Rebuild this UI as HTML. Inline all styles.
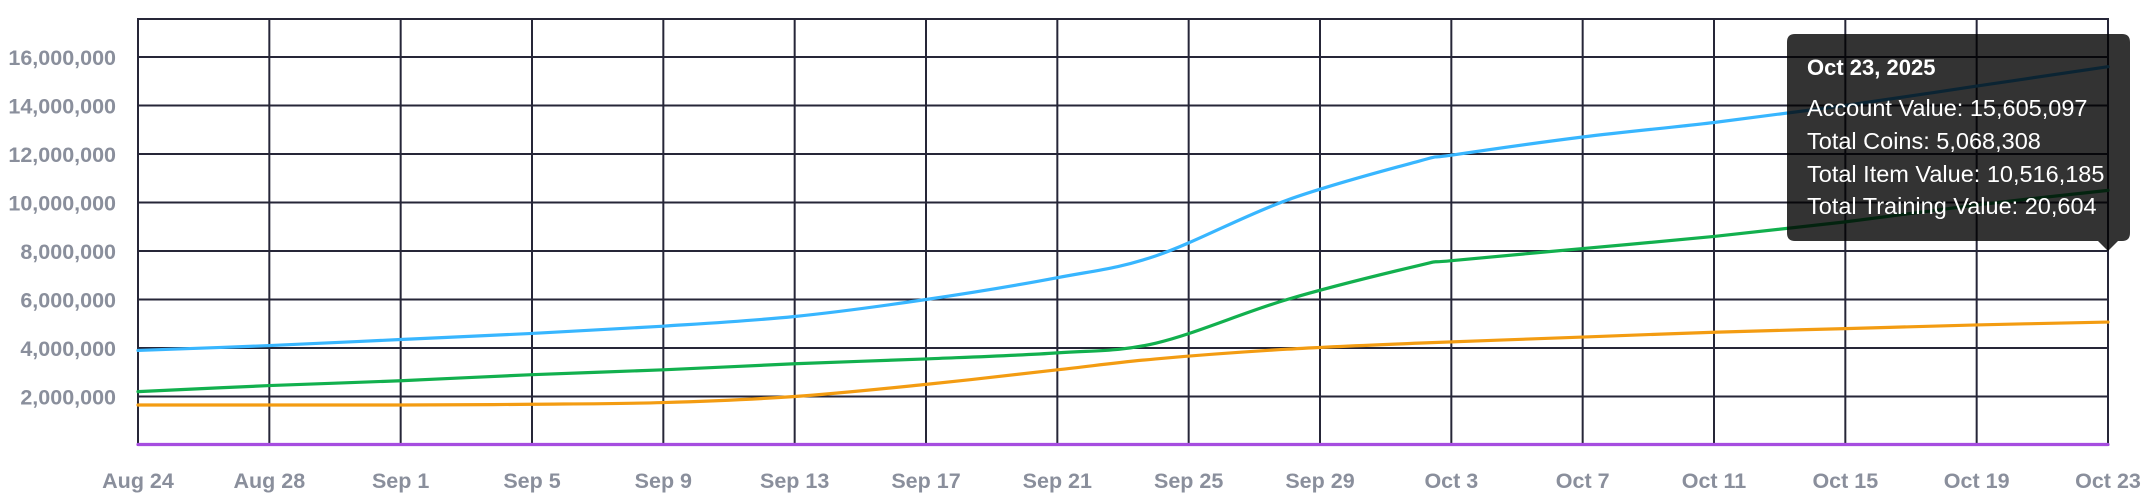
<!DOCTYPE html>
<html><head><meta charset="utf-8"><style>
html,body{margin:0;padding:0;background:#fff;width:2148px;height:500px;overflow:hidden}
svg{display:block}
text{font-family:"Liberation Sans",Arial,sans-serif}
</style></head><body>
<svg id="s" width="2148" height="500" xmlns="http://www.w3.org/2000/svg">
<g id="grid" stroke="#262638" stroke-width="2" fill="none"></g>
<g id="lbl" font-weight="bold" font-size="21.5" fill="#8a8f9c"></g>
<g id="series" fill="none" stroke-width="3.2" stroke-linecap="round"></g>
<g>
<path d="M1795 34 H2122 Q2130 34 2130 42 V233 Q2130 241 2122 241 H2118 L2108 251 L2098 241 H1795 Q1787 241 1787 233 V42 Q1787 34 1795 34 Z" fill="rgba(0,0,0,0.8)"/>
<text x="1807" y="75" fill="#fff" font-weight="bold" font-size="22">Oct 23, 2025</text>
<text x="1807" y="116" fill="#fff" font-size="23.5">Account Value: 15,605,097</text>
<text x="1807" y="149" fill="#fff" font-size="23.5">Total Coins: 5,068,308</text>
<text x="1807" y="182" fill="#fff" font-size="23.5">Total Item Value: 10,516,185</text>
<text x="1807" y="214" fill="#fff" font-size="23.5">Total Training Value: 20,604</text>
</g>
</svg>
<script>
var L=138,R=2108,T=19,B=445,ns="http://www.w3.org/2000/svg";
function X(d){return L+(R-L)*d/60}
function Y(m){return B-m*24.25}
var g=document.getElementById('grid'),lb=document.getElementById('lbl'),se=document.getElementById('series');
function el(p,t,a,txt){var e=document.createElementNS(ns,t);for(var k in a)e.setAttribute(k,a[k]);if(txt)e.textContent=txt;p.appendChild(e);return e}
el(g,'rect',{x:L,y:T,width:R-L,height:B-T});
for(var i=1;i<=8;i++){var y=Y(2*i);el(g,'line',{x1:L,x2:R,y1:y,y2:y});
el(lb,'text',{x:116,y:y+8,'text-anchor':'end'},(2*i)+',000,000');}
var names=['Aug 24','Aug 28','Sep 1','Sep 5','Sep 9','Sep 13','Sep 17','Sep 21','Sep 25','Sep 29','Oct 3','Oct 7','Oct 11','Oct 15','Oct 19','Oct 23'];
for(var j=0;j<16;j++){var x=X(4*j);if(j>0&&j<15)el(g,'line',{x1:x,x2:x,y1:T,y2:B});
el(lb,'text',{x:x,y:488,'text-anchor':'middle'},names[j]);}
function path(pts){var P=pts.map(function(p){return [X(p[0]),Y(p[1])]});var d='M'+P[0][0]+' '+P[0][1];
for(var i=0;i<P.length-1;i++){var p0=P[i-1]||P[i],p1=P[i],p2=P[i+1],p3=P[i+2]||p2;
d+=' C'+(p1[0]+(p2[0]-p0[0])/6)+' '+(p1[1]+(p2[1]-p0[1])/6)+' '+(p2[0]-(p3[0]-p1[0])/6)+' '+(p2[1]-(p3[1]-p1[1])/6)+' '+p2[0]+' '+p2[1];}
return d}
var S=[
['#a64de0',[[0,0.02],[60,0.02]]],
['#f39c12',[[0,1.65],[8,1.65],[12,1.68],[16,1.75],[20,2.0],[24,2.5],[28,3.1],[31,3.55],[35,3.95],[39,4.2],[44,4.45],[48,4.65],[52,4.8],[56,4.95],[60,5.07]]],
['#12b04e',[[0,2.2],[4,2.45],[8,2.65],[12,2.9],[16,3.1],[20,3.35],[24,3.55],[28,3.8],[31,4.2],[35,6.0],[39,7.4],[40,7.6],[44,8.1],[48,8.6],[52,9.2],[56,9.9],[60,10.5]]],
['#38b6ff',[[0,3.9],[4,4.1],[8,4.35],[12,4.6],[16,4.9],[20,5.3],[24,6.0],[28,6.9],[31,7.8],[35,10.1],[39,11.7],[40,11.95],[44,12.7],[48,13.3],[52,14.0],[56,14.8],[60,15.6]]]];
S.forEach(function(s){el(se,'path',{d:path(s[1]),stroke:s[0]})});
</script>
</body></html>
